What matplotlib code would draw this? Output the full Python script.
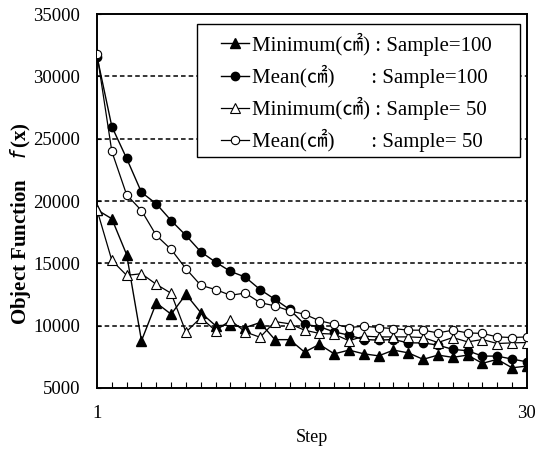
import matplotlib
matplotlib.use("Agg")
import matplotlib.pyplot as plt
from matplotlib.patches import Rectangle
from matplotlib.ticker import FixedLocator, MultipleLocator

steps = list(range(1, 31))

min_100 = [19300, 18580, 15700, 8790, 11830, 10920, 12520, 11050, 10000, 10050,
           9850, 10250, 8880, 8880, 7880, 8500, 7740, 8040, 7740, 7580,
           8040, 7820, 7300, 7640, 7460, 7640, 6980, 7300, 6620, 6760]
mean_100 = [31600, 25980, 23420, 20700, 19780, 18440, 17240, 15930, 15100, 14360,
            13900, 12900, 12120, 11300, 10110, 9920, 9500, 9240, 8890, 8840,
            8890, 8620, 8620, 8440, 8100, 7990, 7560, 7560, 7320, 7100]
min_50 = [19300, 15240, 14040, 14170, 13320, 12600, 9480, 10650, 9590, 10440,
          9500, 9070, 10330, 10150, 9640, 9380, 9320, 8790, 9160, 9100,
          9100, 9100, 9050, 8650, 9050, 8700, 8890, 8570, 8620, 8650]
mean_50 = [31800, 23980, 20500, 19240, 17240, 16120, 14570, 13240, 12900, 12440,
           12620, 11850, 11590, 11190, 10920, 10400, 10120, 9850, 9960, 9850,
           9770, 9640, 9640, 9420, 9640, 9420, 9380, 9100, 9050, 9100]

labels = ["Minimum(㎠) : Sample=100",
          "Mean(㎠)       : Sample=100",
          "Minimum(㎠) : Sample= 50",
          "Mean(㎠)       : Sample= 50"]
yticks = [5000, 10000, 15000, 20000, 25000, 30000, 35000]
xtick_labels = [1, 30]

serif = ["Liberation Serif", "Noto Sans CJK KR", "DejaVu Serif"]
plt.rcParams["font.family"] = serif

fig = plt.figure(figsize=(5.36, 4.57), dpi=100)
ax = fig.add_axes([0.181, 0.151, 0.802, 0.818])

for v in [10000, 15000, 20000, 25000, 30000]:
    ax.axhline(v, color="black", lw=1.1, ls=(0, (3, 2)), zorder=1)

ax.plot(steps, min_100, color="black", lw=1, marker="^", ms=6.5,
        mfc="black", mec="black", label=labels[0], zorder=3)
ax.plot(steps, mean_100, color="black", lw=1, marker="o", ms=6,
        mfc="black", mec="black", label=labels[1], zorder=3)
ax.plot(steps, min_50, color="black", lw=0.9, marker="^", ms=6.5,
        mfc="white", mec="black", mew=0.8, label=labels[2], zorder=4)
ax.plot(steps, mean_50, color="black", lw=0.9, marker="o", ms=6,
        mfc="white", mec="black", mew=0.8, label=labels[3], zorder=4)

ax.set_xlim(1, 30)
ax.set_ylim(5000, 35000)
ax.set_yticks(yticks)
ax.set_yticklabels([str(v) for v in yticks])
ax.xaxis.set_major_locator(FixedLocator(xtick_labels))
ax.set_xticklabels([str(v) for v in xtick_labels])
ax.xaxis.set_minor_locator(MultipleLocator(1))
ax.tick_params(axis="x", which="both", direction="in", length=4, width=0.8,
               labelsize=13.5, pad=12)
ax.tick_params(axis="x", which="major", length=0)
ax.tick_params(axis="y", direction="in", length=3, width=0.8, labelsize=13.5, pad=12)

for s in ax.spines.values():
    s.set_linewidth(1.4)
    s.set_color("black")

ax.set_xlabel("Step", fontsize=13, labelpad=5)
ax.set_ylabel(r"Object Function    $\mathit{f}\,$(x)", fontsize=15,
              fontweight="bold", labelpad=6)
ax.yaxis.set_label_coords(-0.148, 0.44)

# legend frame drawn separately for exact extent
frame = Rectangle((0.2326, 0.6176), 0.7511, 0.3557, transform=ax.transAxes,
                  facecolor="white", edgecolor="black", lw=1.0, zorder=9)
ax.add_patch(frame)

leg = ax.legend(loc="upper left", bbox_to_anchor=(0.288, 0.951), fontsize=15,
                frameon=False, handlelength=1.35, handletextpad=0.15,
                labelspacing=0.44, borderpad=0.0, borderaxespad=0)
leg.set_zorder(10)

fig.savefig("out.png", dpi=100)
